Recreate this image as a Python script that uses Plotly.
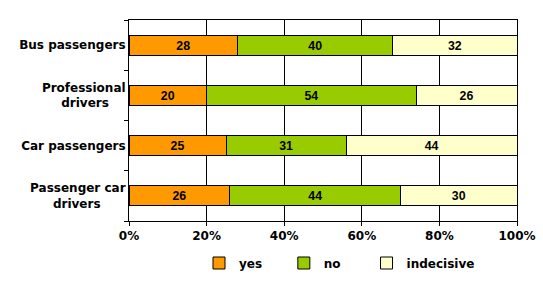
import plotly.graph_objects as go

NB = "\u00a0"
categories = ["Bus passengers", "Professional<br>drivers" + NB * 4, "Car passengers", "Passenger car<br>drivers" + NB * 6]
yes_vals = [28, 20, 25, 26]
no_vals = [40, 54, 31, 44]
indecisive_vals = [32, 26, 44, 30]
x_ticks = [0, 20, 40, 60, 80, 100]
x_tick_labels = ["0%", "20%", "40%", "60%", "80%", "100%"]
series_names = ["yes", "no", "indecisive"]
series_pad = [4, 5, 0]

series = [
    (yes_vals, "#FF9900"),
    (no_vals, "#99CC00"),
    (indecisive_vals, "#FFFFCC"),
]

fig = go.Figure()
for name, pad, (vals, color) in zip(series_names, series_pad, series):
    fig.add_trace(go.Bar(
        y=categories, x=vals, name=name + NB * pad, orientation="h",
        marker=dict(color=color, line=dict(color="black", width=1)),
        text=[str(v) for v in vals], textposition="inside",
        insidetextanchor="middle", textangle=0,
        textfont=dict(family="Liberation Sans Narrow, Liberation Sans", size=14, color="black", weight="bold"),
        width=0.4,
    ))

fig.update_layout(
    barmode="stack",
    width=543, height=282,
    margin=dict(l=129, r=26, t=20, b=61, autoexpand=False),
    paper_bgcolor="white", plot_bgcolor="white",
    font=dict(family="DejaVu Sans", size=12, color="black", weight="bold"),
    showlegend=True,
    legend=dict(orientation="h", x=(213 - 129 - 14) / 388, xanchor="left", y=-0.209, yanchor="middle",
                font=dict(family="DejaVu Sans", size=12, weight="bold"),
                traceorder="normal", itemwidth=30),
)
fig.update_xaxes(
    range=[0, 100], tickvals=x_ticks, ticktext=x_tick_labels,
    showgrid=True, gridcolor="black", gridwidth=1,
    showline=True, linecolor="black", linewidth=1, mirror=True,
    ticks="outside", ticklen=4, tickcolor="black", zeroline=False,
    tickfont=dict(size=12, weight="bold"),
)
fig.update_yaxes(
    categoryorder="array", categoryarray=categories[::-1],
    showline=True, linecolor="black", linewidth=1, mirror=True,
    ticks="outside", ticklen=4, tickcolor="black", tickson="boundaries",
    showgrid=False, tickfont=dict(size=12, weight="bold"),
)

fig.write_html("out.html")
